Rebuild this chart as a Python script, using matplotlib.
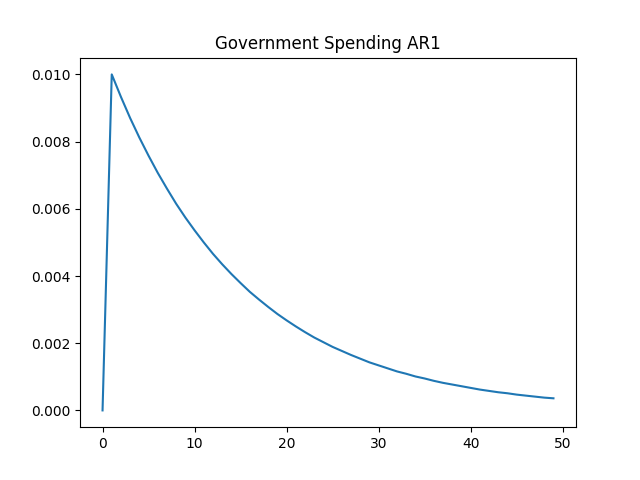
import matplotlib
matplotlib.use("Agg")
import matplotlib.pyplot as plt

# impulse response values (periods 0..49)
periods = list(range(50))
response = [0.0,
    0.01000, 0.00933, 0.00870, 0.00812, 0.00758, 0.00707, 0.00660, 0.00615, 0.00574, 0.00536,
    0.00500, 0.00466, 0.00435, 0.00406, 0.00379, 0.00353, 0.00330, 0.00308, 0.00287, 0.00268,
    0.00250, 0.00233, 0.00217, 0.00203, 0.00189, 0.00177, 0.00165, 0.00154, 0.00143, 0.00134,
    0.00125, 0.00116, 0.00109, 0.00101, 0.00095, 0.00088, 0.00082, 0.00077, 0.00072, 0.00067,
    0.00062, 0.00058, 0.00054, 0.00051, 0.00047, 0.00044, 0.00041, 0.00038, 0.00036]

fig, ax = plt.subplots(figsize=(6.4, 4.8), dpi=100)
ax.plot(periods, response)
ax.set_title("Government Spending AR1")
plt.savefig("out.png")
